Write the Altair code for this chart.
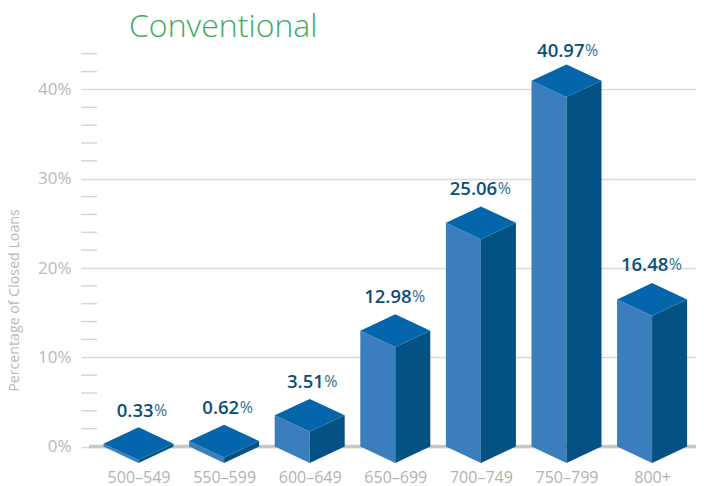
import json
import altair as alt
import pandas as pd

categories = ["500–549", "550–599", "600–649", "650–699", "700–749", "750–799", "800+"]
values = [0.33, 0.62, 3.51, 12.98, 25.06, 40.97, 16.48]
major_ticks = [0, 10, 20, 30, 40]
minor_ticks = [2, 4, 6, 8, 12, 14, 16, 18, 22, 24, 26, 28, 32, 34, 36, 38, 42, 44]

FONT = "Open Sans"
HALF_W = 0.409   # half a bar, in category units
DEPTH = 1.83     # half the top diamond, in percentage points
LIFT = [1.87, 1.87, 1.87, 1.99, 1.99, 1.55, 1.99]
SPLIT = [0.176, 0.176, 0.165, 0.19, 0.19, 0.21, 0.19]

left_rows, right_rows, top_rows, label_rows = [], [], [], []
for i, (cat, v) in enumerate(zip(categories, values)):
    left_rows += [
        {"bar": cat, "x": i - HALF_W, "y": v, "y2": 0},
        {"bar": cat, "x": i, "y": v - DEPTH, "y2": -DEPTH},
    ]
    right_rows += [
        {"bar": cat, "x": i, "y": v - DEPTH, "y2": -DEPTH},
        {"bar": cat, "x": i + HALF_W, "y": v, "y2": 0},
    ]
    top_rows += [
        {"bar": cat, "x": i - HALF_W, "y": v, "y2": v},
        {"bar": cat, "x": i, "y": v + DEPTH, "y2": v - DEPTH},
        {"bar": cat, "x": i + HALF_W, "y": v, "y2": v},
    ]
    label_rows.append({"x": i + SPLIT[i], "y": v + DEPTH + LIFT[i], "num": f"{v:.2f}", "pct": "%"})

x_scale = alt.Scale(domain=[-0.672, 6.513], nice=False, zero=False)
y_scale = alt.Scale(domain=[-2.4, 48], nice=False, zero=False)
label_expr = "%s[datum.value]" % json.dumps(categories, ensure_ascii=False)
x_axis = alt.Axis(
    values=list(range(len(categories))), labelExpr=label_expr, title=None, domain=False, ticks=False,
    grid=False, labelFont=FONT, labelFontSize=16, labelFontWeight=400, labelColor="#b2b2b2", labelPadding=1)
y_axis = alt.Axis(
    values=major_ticks, labelExpr="datum.value + '%'", title="Percentage of Closed Loans",
    domain=False, ticks=False, grid=True, gridColor="#d9d9d9", gridWidth=1.5,
    labelFont=FONT, labelFontSize=17, labelFontWeight=400, labelColor="#b8b8b8", labelPadding=10,
    titleFont=FONT, titleFontSize=14.2, titleFontWeight=400, titleColor="#b8b8b8",
    titleX=-66.5, titleY=282, titleAngle=-90, titleAlign="center", titleBaseline="middle")
X = alt.X("x:Q", scale=x_scale, axis=x_axis)
Y = alt.Y("y:Q", scale=y_scale, axis=y_axis)

minor = alt.Chart(pd.DataFrame({"y": minor_ticks})).mark_rule(color="#d4d4d4", strokeWidth=1.4).encode(
    y=Y, x=alt.value(0), x2=alt.value(16))
baseline = alt.Chart(pd.DataFrame({"y": [0]})).mark_rule(color="#c8c8c8", strokeWidth=3.4).encode(
    y=Y, x=alt.value(8), x2=alt.value(615))

def face(rows, color):
    return alt.Chart(pd.DataFrame(rows)).mark_area(color=color, opacity=1, interpolate="linear").encode(
        x=X, y=Y, y2="y2:Q", detail="bar:N")

left = face(left_rows, "#3a7ebe")
right = face(right_rows, "#045183")
top = face(top_rows, "#0465aa")

labels = pd.DataFrame(label_rows)
num_text = alt.Chart(labels).mark_text(
    align="right", baseline="middle", font=FONT, fontSize=18.5, fontWeight=600, color="#0b4f78"
).encode(x=X, y=Y, text="num:N")
pct_text = alt.Chart(labels).mark_text(
    align="left", baseline="middle", font=FONT, fontSize=16, fontWeight=400, color="#2b6f94", dx=0.5
).encode(x=X, y=Y, text="pct:N")

title = alt.Chart(pd.DataFrame({"t": ["Conventional"]})).mark_text(
    align="left", baseline="middle", font=FONT, fontSize=32, fontWeight=300, color="#3fa95f"
).encode(x=alt.value(48), y=alt.value(9), text="t:N")

chart = alt.layer(minor, baseline, left, right, top, num_text, pct_text, title).properties(
    width=615, height=450,
    padding={"left": 73, "top": 10, "right": 0, "bottom": 18},
    autosize=alt.AutoSizeParams(type="none"),
).configure_view(stroke=None)

chart.save("out.html", embed_options={"renderer": "svg", "actions": False})
